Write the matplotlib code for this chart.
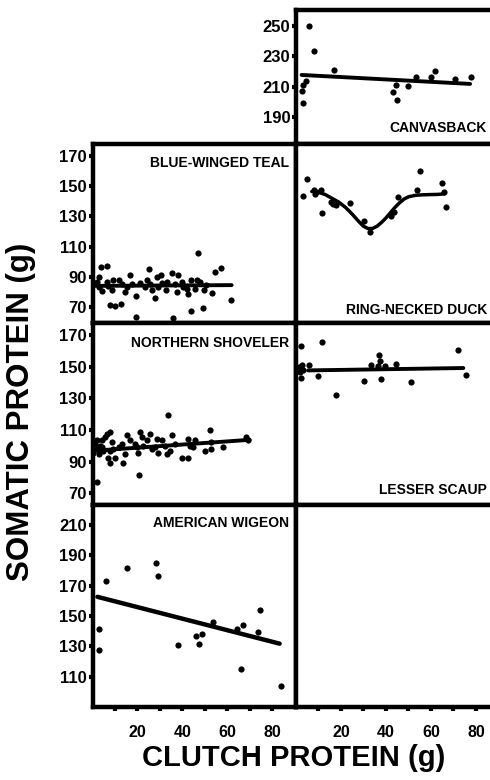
import numpy as np
import matplotlib
matplotlib.use("Agg")
import matplotlib.pyplot as plt

plt.rcParams['font.family'] = ['Liberation Sans', 'DejaVu Sans']
plt.rcParams['font.weight'] = 'bold'

# ---- data (x = clutch protein, y = somatic protein, g) ----
canvasbackX = [5.7, 8.1, 16.7, 2.9, 2.5, 3.2, 4.4, 43.2, 45.1, 44.6, 49.8, 53.2, 60.2, 61.9, 70.8, 77.7]
canvasbackY = [250.2, 233.7, 221.0, 211.1, 207.4, 199.4, 213.7, 206.7, 201.2, 211.1, 210.4, 216.6, 216.6, 220.5, 214.8, 216.6]
canvasbackLineX = [2.5, 77.4]
canvasbackLineY = [217.7, 211.8]

tealX = [3.7, 6.4, 2.7, 3.1, 4.1, 6.4, 8.6, 9.3, 7.9, 10.1, 12.7, 11.6, 14.5, 16.7, 19.4, 19.4,
         21.2, 23.4, 25.3, 25.6, 27.9, 26.4, 28.6, 30.5, 29.3, 32.7, 33.3, 35.6, 36.0, 37.5, 37.9,
         39.7, 40.4, 42.4, 44.1, 44.1, 45.6, 46.8, 47.9, 49.3, 49.6, 53.3, 54.5, 57.2, 61.6, 1.9,
         7.1, 13.0, 15.3, 17.5, 30.8, 24.1, 36.7, 41.9, 46.4, 50.8]
tealY = [96.5, 96.9, 89.8, 83.2, 80.6, 86.5, 81.0, 87.6, 71.5, 70.6, 71.7, 87.6, 79.9, 91.4, 77.3, 63.4,
         85.9, 83.2, 95.4, 85.4, 76.2, 81.0, 89.8, 91.0, 83.2, 81.0, 86.5, 92.7, 62.7, 79.9, 91.0,
         86.5, 83.2, 78.8, 67.1, 88.1, 82.1, 106.0, 86.5, 69.3, 81.5, 79.3, 93.2, 96.0, 74.8, 86.5,
         83.7, 85.4, 83.2, 85.0, 85.9, 87.6, 85.4, 82.1, 87.6, 84.3]
tealLineX = [0.5, 62]
tealLineY = [84, 84.5]

ringneckX = [3.2, 4.7, 7.9, 9.1, 10.9, 8.4, 11.7, 15.7, 17.9, 16.4, 24.1, 30.4, 33.1, 42.1, 43.6,
             45.5, 53.6, 55.1, 64.9, 65.9, 66.7]
ringneckY = [143.5, 154.6, 147.5, 146.4, 147.5, 145.2, 132.5, 139.6, 137.4, 138.5, 139.2, 127.0, 119.9,
             130.3, 133.1, 142.6, 147.5, 160.3, 152.3, 146.4, 136.5]
# smooth fitted curve, traced at points along it
ringneckCurveX = [7, 10, 13, 16, 19, 22, 25, 28, 30, 32, 34, 36, 38, 40, 42, 44, 46, 48, 50, 53, 56, 60, 63, 66]
ringneckCurveY = [146.5, 146, 144.5, 142, 139.5, 136, 131.5, 126.5, 123.5, 122, 122, 123.5, 126, 129,
                  132.5, 136, 139, 141.5, 143, 144, 144.3, 144.5, 144.6, 145]

shovelerX = [2.2, 3.4, 1.2, 1.9, 0.4, 2.7, 4.1, 4.9, 2.2, 6.4, 7.9, 5.6, 8.6, 7.1, 7.9, 10.1, 9.3,
             11.6, 13.0, 13.8, 14.5, 15.3, 16.7, 18.9, 19.7, 20.9, 21.2, 21.9, 20.4, 22.7, 24.1, 25.6,
             26.4, 27.9, 28.6, 29.3, 30.8, 32.3, 33.0, 33.8, 34.5, 35.3, 36.7, 39.7, 42.7, 42.7, 43.4,
             44.9, 45.6, 50.1, 52.3, 53.0, 53.0, 58.2, 68.6, 69.3, 4.1, 0.4, 7.6]
shovelerY = [103.4, 100.1, 101.2, 98.0, 95.8, 94.8, 99.1, 96.9, 77.5, 107.6, 108.7, 105.5, 102.3, 92.6,
             89.4, 92.6, 98.0, 99.1, 101.2, 89.4, 94.8, 106.6, 103.4, 101.2, 99.1, 81.9, 108.7, 105.5,
             95.8, 100.1, 103.4, 107.6, 98.0, 99.1, 104.4, 95.8, 103.4, 100.1, 94.8, 119.5, 96.9, 106.6,
             101.2, 92.6, 92.6, 104.4, 100.1, 99.1, 103.4, 96.9, 109.8, 98.0, 102.3, 99.1, 105.5, 103.4,
             103.4, 103.4, 96.9]
shovelerLineX = [0.4, 70]
shovelerLineY = [96.9, 103.8]

scaupX = [2.1, 2.5, 1.8, 2.2, 3.2, 1.5, 5.7, 11.6, 9.8, 17.9, 30.1, 33.3, 36.7, 37.3, 36.3, 39.5,
          37.7, 44.6, 51.1, 72.2, 75.6]
scaupY = [163.3, 151.3, 146.6, 142.7, 147.6, 149.8, 150.9, 165.3, 143.8, 131.9, 141.2, 151.3, 157.3,
          153.4, 150.4, 150.4, 142.3, 151.9, 140.1, 160.3, 144.8]
scaupLineX = [5.4, 74.4]
scaupLineY = [147.6, 149.1]

wigeonX = [2.7, 2.7, 5.9, 15.3, 28.3, 29.3, 37.9, 46.1, 47.6, 49.0, 53.5, 64.6, 67.1, 66.4, 73.8, 74.5, 84.1]
wigeonY = [141.6, 127.3, 173.3, 182.0, 184.9, 176.7, 131.1, 136.7, 131.8, 138.2, 146.0, 141.8, 144.0,
           115.1, 139.6, 153.8, 103.8]
wigeonLineX = [2.2, 83.4]
wigeonLineY = [162.7, 131.8]

xTicks = [10, 20, 30, 40, 50, 60, 70, 80]
xTickLabels = ['', '20', '', '40', '', '60', '', '80']
smallTicks = [70, 90, 110, 130, 150, 170]
wigeonTicks = [110, 130, 150, 170, 190, 210]
canvasTicks = [190, 210, 230, 250]

W, H = 490, 780
fig = plt.figure(figsize=(W / 100, H / 100), dpi=100)


def panel(x0, y0, x1, y1, ylim, yticks=None, bottom=False):
    ax = fig.add_axes([x0 / W, 1 - y1 / H, (x1 - x0) / W, (y1 - y0) / H])
    ax.set_xlim(0, 90.7)
    ax.set_ylim(*ylim)
    for s in ax.spines.values():
        s.set_linewidth(3.2)
    ax.tick_params(direction='out', length=3, width=3, pad=1, labelsize=12)
    if yticks:
        ax.set_yticks(yticks)
        ax.set_yticklabels([str(t) for t in yticks], fontweight='bold')
    else:
        ax.set_yticks([])
    if bottom:
        ax.set_xticks(xTicks)
        ax.set_xticklabels(xTickLabels, fontweight='bold', fontsize=11.5)
        ax.tick_params(axis='x', pad=10)
    else:
        ax.set_xticks([])
    return ax


def draw(ax, px, py, lx, ly, lw=2.8):
    ax.scatter(px, py, s=20, color='black', zorder=3, linewidths=0)
    ax.plot(lx, ly, color='black', lw=lw, solid_capstyle='round', zorder=2)


# left column: x 92..296, right column: x 296..500 (cut off by the scan at 490)
axCan = panel(296, 10, 500, 144, (172.2, 260.5), canvasTicks)
axTeal = panel(92.5, 144, 296, 323, (59.4, 178), smallTicks)
axRing = panel(296, 144, 500, 323, (59.4, 178))
axShov = panel(92.5, 323, 296, 505, (62.7, 177.5), smallTicks)
axScaup = panel(296, 323, 500, 505, (62.7, 177.5))
axWig = panel(92.5, 505, 296, 707, (90, 223.3), wigeonTicks, bottom=True)
axEmpty = panel(296, 505, 500, 707, (90, 223.3), bottom=True)

draw(axCan, canvasbackX, canvasbackY, canvasbackLineX, canvasbackLineY)
draw(axTeal, tealX, tealY, tealLineX, tealLineY)
draw(axRing, ringneckX, ringneckY, ringneckCurveX, ringneckCurveY, lw=2.5)
draw(axShov, shovelerX, shovelerY, shovelerLineX, shovelerLineY)
draw(axScaup, scaupX, scaupY, scaupLineX, scaupLineY)
draw(axWig, wigeonX, wigeonY, wigeonLineX, wigeonLineY, lw=3.2)

# species names; the right-hand ones are kept just inside the picture edge
tkw = dict(fontsize=10, fontweight='bold')
fig.text(487 / W, 1 - 128 / H, 'CANVASBACK', ha='right', va='center', **tkw)
axTeal.text(0.968, 0.896, 'BLUE-WINGED TEAL', transform=axTeal.transAxes, ha='right', va='center', **tkw)
fig.text(487 / W, 1 - 310 / H, 'RING-NECKED DUCK', ha='right', va='center', **tkw)
axShov.text(0.968, 0.889, 'NORTHERN SHOVELER', transform=axShov.transAxes, ha='right', va='center', **tkw)
fig.text(487 / W, 1 - 490 / H, 'LESSER SCAUP', ha='right', va='center', **tkw)
axWig.text(0.968, 0.91, 'AMERICAN WIGEON', transform=axWig.transAxes, ha='right', va='center', **tkw)

fig.text(294 / W, 1 - 758 / H, 'CLUTCH PROTEIN (g)', ha='center', va='center', fontsize=21, fontweight='bold')
fig.text(21 / W, 1 - 412 / H, 'SOMATIC PROTEIN (g)', ha='center', va='center', rotation=90,
         fontsize=22.5, fontweight='bold')

fig.savefig('out.png', dpi=100)
